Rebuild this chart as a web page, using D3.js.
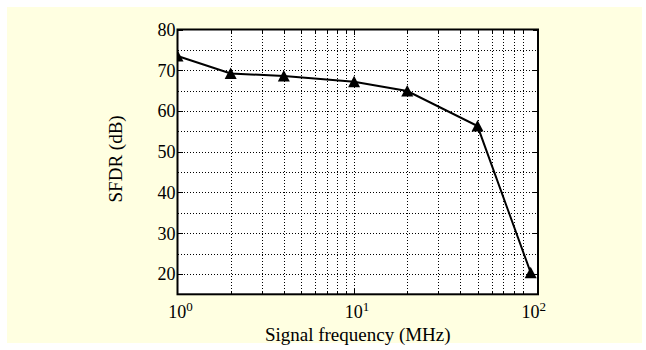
<!DOCTYPE html>
<html><head><meta charset="utf-8">
<script src="https://cdn.jsdelivr.net/npm/d3@7"></script>
<style>body{margin:0;background:#fff}svg{display:block}</style>
</head><body>
<svg id="c" width="646" height="350"></svg>
<script>
const freqs = [1, 2, 4, 10, 20, 50, 100];
const sfdr = [73.5, 69.2, 68.6, 67.2, 64.9, 56.3, 20.3];
const xMajorTicks = [1, 10, 100];
const yTickLabels = [20, 30, 40, 50, 60, 70, 80];
const yGrid = [20, 25, 30, 35, 40, 45, 50, 55, 60, 65, 70, 75];

const svg = d3.select("#c");
const font = "'Liberation Serif','Times New Roman',serif";
svg.append("rect").attr("x",7).attr("y",7).attr("width",635).attr("height",336).attr("fill","#FFFFE1");

const L=177.5, R=538, T=29.5, B=294.3;
const x = d3.scaleLog().domain([1,110]).range([L,R]);
const y = d3.scaleLinear().domain([15,80]).range([B,T]);
const px = v => Math.round(v) + 0.5;

svg.append("rect").attr("x",L).attr("y",T).attr("width",R-L).attr("height",B-T).attr("fill","#fff");

const xGrid = [];
for (let d=1; d<=10; d*=10) for (let k=1; k<=9; k++) { const v=d*k; if (v>1 && v<=100) xGrid.push(v); }

const g = svg.append("g").attr("shape-rendering","crispEdges");
g.selectAll(".vg").data(xGrid).join("line")
  .attr("x1",d=>px(x(d))).attr("x2",d=>px(x(d))).attr("y1",T).attr("y2",B)
  .attr("stroke","#000").attr("stroke-width",1).attr("stroke-dasharray","1,2");
g.selectAll(".hg").data(yGrid).join("line")
  .attr("x1",L).attr("x2",R).attr("y1",d=>px(y(d))).attr("y2",d=>px(y(d)))
  .attr("stroke","#000").attr("stroke-width",1).attr("stroke-dasharray","1,2");

// ticks inside
g.selectAll(".bt").data(xGrid).join("line")
  .attr("x1",d=>px(x(d))).attr("x2",d=>px(x(d))).attr("y1",B).attr("y2",d=>B-(xMajorTicks.includes(d)?5:3.5))
  .attr("stroke","#000").attr("stroke-width",1);
g.selectAll(".tt").data(xGrid).join("line")
  .attr("x1",d=>px(x(d))).attr("x2",d=>px(x(d))).attr("y1",T).attr("y2",d=>T+(xMajorTicks.includes(d)?5:3.5))
  .attr("stroke","#000").attr("stroke-width",1);
g.selectAll(".lt").data(yTickLabels).join("line")
  .attr("x1",L).attr("x2",L+5).attr("y1",d=>px(y(d))).attr("y2",d=>px(y(d))).attr("stroke","#000");
g.selectAll(".rt").data(yTickLabels).join("line")
  .attr("x1",R).attr("x2",R-5).attr("y1",d=>px(y(d))).attr("y2",d=>px(y(d))).attr("stroke","#000");

// data
svg.append("clipPath").attr("id","clip").append("rect").attr("x",L).attr("y",T).attr("width",R-L).attr("height",B-T);
const pts = freqs.map((f,i)=>[f,sfdr[i]]);
const dg = svg.append("g").attr("clip-path","url(#clip)");
dg.append("path").datum(pts)
  .attr("d", d3.line().x(d=>x(d[0])).y(d=>y(d[1])))
  .attr("fill","none").attr("stroke","#000").attr("stroke-width",2);
dg.selectAll(".m").data(pts).join("path")
  .attr("transform",d=>`translate(${x(d[0])},${y(d[1])})`)
  .attr("d","M0,-6L6,5.5L-6,5.5Z").attr("fill","#000");

// border
svg.append("rect").attr("x",L).attr("y",T).attr("width",R-L).attr("height",B-T)
  .attr("fill","none").attr("stroke","#000").attr("stroke-width",2);

// y labels
svg.selectAll(".yl").data(yTickLabels).join("text")
  .attr("x",L-2).attr("y",d=>y(d)).attr("dy","0.36em").attr("text-anchor","end")
  .attr("font-family",font).attr("font-size",18).text(d=>d);

// x labels with superscripts
xMajorTicks.forEach(v=>{
  const t = svg.append("text").attr("x",x(v)+3).attr("y",318).attr("text-anchor","middle")
    .attr("font-family",font).attr("font-size",18);
  t.append("tspan").text("10");
  t.append("tspan").attr("font-size",13).attr("dy",-7).text(Math.round(Math.log10(v)));
});

svg.append("text").attr("x",(L+R)/2).attr("y",341).attr("text-anchor","middle")
  .attr("font-family",font).attr("font-size",19).text("Signal frequency (MHz)");
svg.append("text").attr("transform",`translate(122,${(T+B)/2-3}) rotate(-90)`).attr("text-anchor","middle")
  .attr("font-family",font).attr("font-size",19).text("SFDR (dB)");
</script>
</body></html>
